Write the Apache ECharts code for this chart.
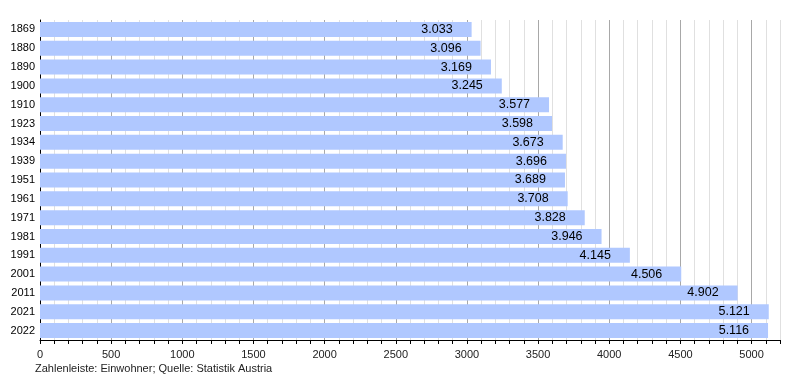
<!DOCTYPE html>
<html><head><meta charset="utf-8">
<script src="https://cdn.jsdelivr.net/npm/echarts@6/dist/echarts.min.js"></script>
<style>html,body{margin:0;padding:0;background:#fff}#c{width:800px;height:380px}</style>
</head><body><div id="c"></div>
<script>
const years = ['1869','1880','1890','1900','1910','1923','1934','1939','1951','1961','1971','1981','1991','2001','2011','2021','2022'];
const population = [3033,3096,3169,3245,3577,3598,3673,3696,3689,3708,3828,3946,4145,4506,4902,5121,5116];
const footnote = 'Zahlenleiste: Einwohner; Quelle: Statistik Austria';

const fmt = v => { const s = String(v); return s.length > 3 ? s.slice(0, s.length-3) + '.' + s.slice(-3) : s; };
const font = '"Liberation Sans", Arial, sans-serif';
const chart = echarts.init(document.getElementById('c'), null, {renderer:'canvas'});
chart.setOption({
  animation: false,
  textStyle: {fontFamily: font},
  grid: {left: 40, right: 20, top: 20, bottom: 40, containLabel: false},
  xAxis: {
    type: 'value', min: 0, max: 5200, interval: 100,
    axisLine: {show: true, lineStyle: {color: '#000', width: 1}},
    axisTick: {show: true, length: 4, lineStyle: {color: '#000'}},
    axisLabel: {color: '#222', fontSize: 11, fontFamily: font, margin: 9,
      formatter: v => (v % 500 === 0 ? String(v) : '')},
    splitLine: {show: true, lineStyle: {color: ['#a8a8a8','#e0e0e0','#e0e0e0','#e0e0e0','#e0e0e0'], width: 1}}
  },
  yAxis: {
    type: 'category', data: years, inverse: true,
    axisLine: {show: true, lineStyle: {color: '#000', width: 1}},
    axisTick: {show: false},
    axisLabel: {color: '#000', fontSize: 11, fontFamily: font, margin: 5}
  },
  series: [{
    type: 'bar', data: population, barWidth: 15,
    itemStyle: {color: '#b0c8ff'},
    label: {show: true, position: 'insideRight', distance: 19, color: '#000', fontSize: 12.5, fontFamily: font,
      formatter: p => fmt(p.value)}
  }],
  graphic: [{type: 'text', left: 35, top: 363, style: {text: footnote, fill: '#222', font: '11px ' + font}}]
});
</script></body></html>
